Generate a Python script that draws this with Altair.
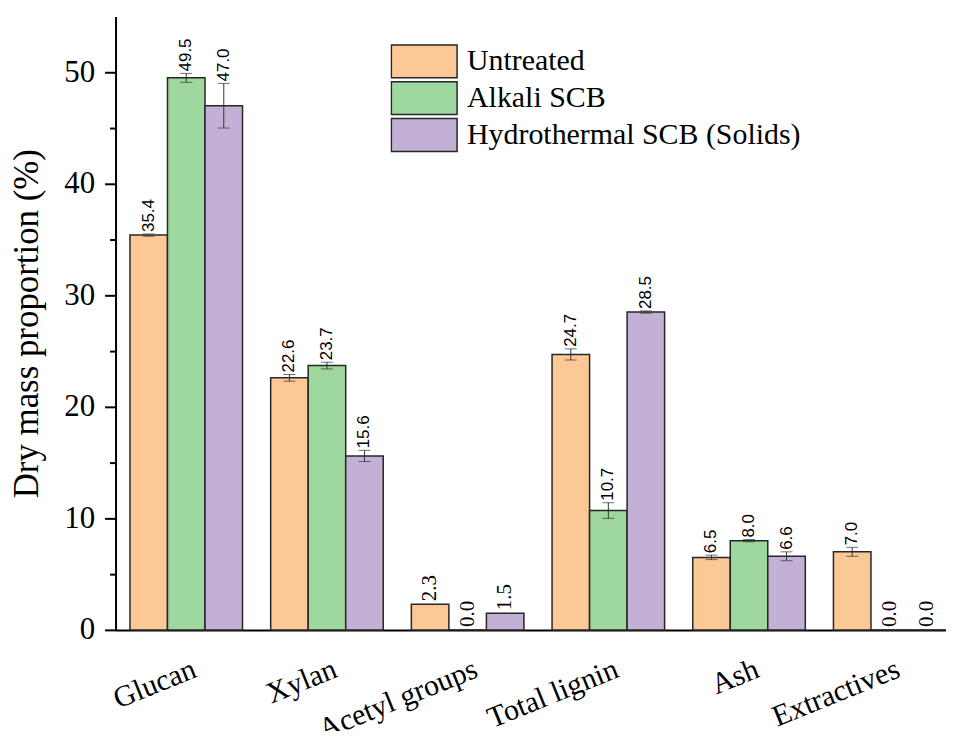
import altair as alt
import pandas as pd

categories = ["Glucan", "Xylan", "Acetyl groups", "Total lignin", "Ash", "Extractives"]
series = ["Untreated", "Alkali SCB", "Hydrothermal SCB (Solids)"]
untreated = [35.4, 22.6, 2.3, 24.7, 6.5, 7.0]
alkali = [49.5, 23.7, 0.0, 10.7, 8.0, 0.0]
hydro = [47.0, 15.6, 1.5, 28.5, 6.6, 0.0]
err_untreated = [0.1, 0.3, 0.0, 0.5, 0.2, 0.4]
err_alkali = [0.4, 0.3, 0.0, 0.7, 0.1, 0.0]
err_hydro = [2.0, 0.5, 0.0, 0.1, 0.4, 0.0]
colors = ["#FBC896", "#9ED89E", "#C2B0D6"]
y_ticks = [0, 5, 10, 15, 20, 25, 30, 35, 40, 45, 50]

rows = []
for s, vals, errs in zip(series, [untreated, alkali, hydro], [err_untreated, err_alkali, err_hydro]):
    for c, v, e in zip(categories, vals, errs):
        rows.append({"category": c, "series": s, "value": v, "err": e,
                     "lo": v - e, "hi": v + e, "label": f"{v:.1f}", "has_err": e > 0})
df = pd.DataFrame(rows)

serif = "Liberation Serif"
sans = "Liberation Sans"

x_enc = alt.X("category:N", sort=categories, title=None,
              scale=alt.Scale(paddingInner=0.2, paddingOuter=0.0513, align=1),
              axis=alt.Axis(labelAngle=-22, labelAlign="right", labelBaseline="top",
                            labelFont=serif, labelFontSize=30, labelColor="black",
                            labelPadding=24, labelOffset=3, ticks=False, tickSize=0,
                            domainColor="black", domainWidth=2, labelLimit=0))
xo_enc = alt.XOffset("series:N", sort=series, scale=alt.Scale(paddingInner=0, paddingOuter=0))
y_scale = alt.Scale(domain=[0, 55], nice=False, zero=True)

base = alt.Chart(df)

bars = base.mark_bar(stroke="#262626", strokeWidth=1.5).encode(
    x=x_enc, xOffset=xo_enc,
    y=alt.Y("value:Q", scale=y_scale, title="Dry mass proportion (%)",
            axis=alt.Axis(values=y_ticks, grid=False,
                          labelExpr="datum.value % 10 === 0 ? datum.label : ''",
                          tickSize=alt.expr("datum.value % 10 === 0 ? 11 : 6"),
                          tickColor="black", tickWidth=2, domainColor="black", domainWidth=2,
                          labelFont=serif, labelFontSize=31, labelColor="black", labelPadding=10,
                          titleFont=serif, titleFontSize=35, titleFontWeight="normal",
                          titleColor="black", titlePadding=19)),
    fill=alt.Fill("series:N", sort=series, scale=alt.Scale(domain=series, range=colors),
                  legend=alt.Legend(title=None, orient="none", legendX=276, legendY=27,
                                    symbolType="M-1,-0.5H1V0.5H-1Z", symbolSize=4356,
                                    symbolStrokeColor="#262626", symbolStrokeWidth=1.5,
                                    symbolOpacity=1, clipHeight=36,
                                    labelFont=serif, labelFontSize=30, labelColor="black",
                                    labelOffset=9, labelLimit=0, rowPadding=1, padding=0)),
)

err_df = base.transform_filter("datum.has_err")

rules = err_df.mark_rule(color="#333333", strokeWidth=1).encode(
    x=alt.X("category:N", sort=categories), xOffset=alt.XOffset("series:N", sort=series),
    y=alt.Y("lo:Q", scale=y_scale), y2="hi:Q")

caps_hi = err_df.mark_tick(color="#333333", thickness=1, size=12, orient="horizontal").encode(
    x=alt.X("category:N", sort=categories), xOffset=alt.XOffset("series:N", sort=series),
    y=alt.Y("hi:Q", scale=y_scale))
caps_lo = err_df.mark_tick(color="#333333", thickness=1, size=12, orient="horizontal").encode(
    x=alt.X("category:N", sort=categories), xOffset=alt.XOffset("series:N", sort=series),
    y=alt.Y("lo:Q", scale=y_scale))

labels_err = err_df.mark_text(angle=270, align="left", baseline="middle", dx=2,
                              font=sans, fontSize=17, color="black").encode(
    x=alt.X("category:N", sort=categories), xOffset=alt.XOffset("series:N", sort=series),
    y=alt.Y("hi:Q", scale=y_scale), text="label:N")

labels_noerr = base.transform_filter("!datum.has_err").mark_text(
    angle=270, align="left", baseline="middle", dx=3,
    font=serif, fontSize=21, color="black").encode(
    x=alt.X("category:N", sort=categories), xOffset=alt.XOffset("series:N", sort=series),
    y=alt.Y("hi:Q", scale=y_scale), text="label:N")

chart = alt.layer(bars, rules, caps_hi, caps_lo, labels_err, labels_noerr).properties(
    width=834, height=616,
    padding={"left": 108, "top": 7, "right": 0, "bottom": 100},
    autosize=alt.AutoSizeParams(type="none"),
    background="white",
).configure_view(stroke=None)

chart.save("out.html", embed_options={"renderer": "svg", "actions": False})
